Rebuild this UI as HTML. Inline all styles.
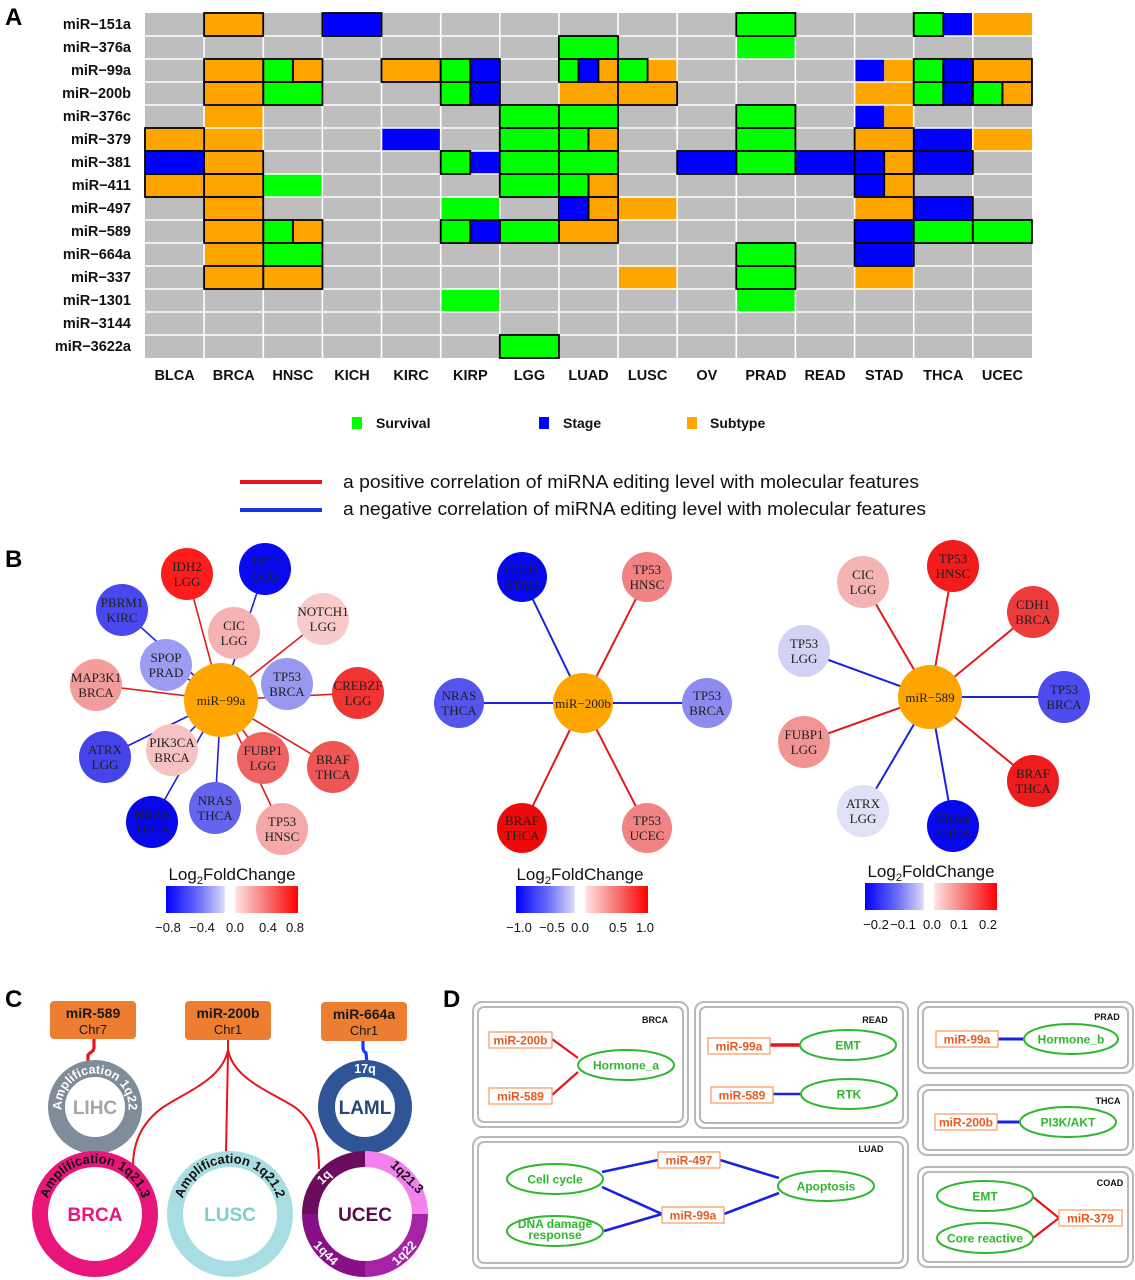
<!DOCTYPE html>
<html><head><meta charset="utf-8">
<style>
html,body{margin:0;padding:0;background:#fff;}
svg{display:block;}
.o{fill:#ffa500}.g{fill:#00ff00}.b{fill:#0000ff}
.k{fill:none;stroke:#000;stroke-width:1.8}
.rl{font:bold 14.5px "Liberation Sans",sans-serif;text-anchor:end;fill:#111}
.cl{font:bold 14.5px "Liberation Sans",sans-serif;text-anchor:middle;fill:#111}
.lg{font:bold 14px "Liberation Sans",sans-serif;fill:#111}
.pl{font:bold 24px "Liberation Sans",sans-serif;fill:#000}
.n{font:13px "Liberation Serif",serif;text-anchor:middle;fill:#1e1e1e}
.cb{font:17px "Liberation Sans",sans-serif;text-anchor:middle;fill:#111}
.tk{font:13px "Liberation Sans",sans-serif;text-anchor:middle;fill:#111}
.bx{font:bold 14px "Liberation Sans",sans-serif;text-anchor:middle;fill:#1a1a1a}
.bc{font:13px "Liberation Sans",sans-serif;text-anchor:middle;fill:#1a1a1a}
.rt{font:bold 19px "Liberation Sans",sans-serif;text-anchor:middle}
.rw{font:bold 12.5px "Liberation Sans",sans-serif;fill:#fff;text-anchor:middle}
.rk{font:bold 13px "Liberation Sans",sans-serif;fill:#111;text-anchor:middle}
.db{fill:none;stroke:#b8b8b8;stroke-width:2}
.dl{font:bold 9px "Liberation Sans",sans-serif;text-anchor:middle;fill:#111}
.mb{fill:#fff;stroke:#f5a06a;stroke-width:1.3}
.mt{font:bold 12px "Liberation Sans",sans-serif;text-anchor:middle;fill:#e85a1e}
.el{fill:#fff;stroke:#2eb82e;stroke-width:2}
.et{font:bold 12px "Liberation Sans",sans-serif;text-anchor:middle;fill:#2eb82e}
</style></head>
<body>
<svg width="1135" height="1280" viewBox="0 0 1135 1280" xmlns="http://www.w3.org/2000/svg">
<defs>
<linearGradient id="cg" x1="0" x2="1" y1="0" y2="0">
<stop offset="0" stop-color="#0000ff"/>
<stop offset="0.25" stop-color="#6f6ff8"/>
<stop offset="0.44" stop-color="#d8d8fa"/>
<stop offset="0.45" stop-color="#ffffff"/>
<stop offset="0.52" stop-color="#ffffff"/>
<stop offset="0.53" stop-color="#ffe0e0"/>
<stop offset="0.75" stop-color="#f77a7a"/>
<stop offset="1" stop-color="#ff0000"/>
</linearGradient>
<path id="pLIHC" d="M62 1112.8 A33.5 33.5 0 1 1 128 1112.8"/>
<path id="pBRCA" d="M46.6 1204.4 A49 49 0 0 1 143.4 1204.4"/>
<path id="pLUSC" d="M181.6 1204.4 A49 49 0 0 1 278.4 1204.4"/>
</defs>

<!-- ================= PANEL A ================= -->
<text class="pl" x="5" y="25">A</text>
<g>
<text class="rl" x="131" y="29">miR−151a</text>
<text class="rl" x="131" y="52">miR−376a</text>
<text class="rl" x="131" y="75">miR−99a</text>
<text class="rl" x="131" y="98">miR−200b</text>
<text class="rl" x="131" y="121">miR−376c</text>
<text class="rl" x="131" y="144">miR−379</text>
<text class="rl" x="131" y="167">miR−381</text>
<text class="rl" x="131" y="190">miR−411</text>
<text class="rl" x="131" y="213">miR−497</text>
<text class="rl" x="131" y="236">miR−589</text>
<text class="rl" x="131" y="259">miR−664a</text>
<text class="rl" x="131" y="282">miR−337</text>
<text class="rl" x="131" y="305">miR−1301</text>
<text class="rl" x="131" y="328">miR−3144</text>
<text class="rl" x="131" y="351">miR−3622a</text>
</g>
<rect x="145" y="13" width="887" height="345" fill="#bebebe"/>
<g>
<!-- R0 -->
<rect class="o" x="204.1" y="13" width="59.13" height="23"/>
<rect class="b" x="322.4" y="13" width="59.13" height="23"/>
<rect class="g" x="736.3" y="13" width="59.13" height="23"/>
<rect class="g" x="913.7" y="13" width="29.57" height="23"/>
<rect class="b" x="943.3" y="13" width="29.57" height="23"/>
<rect class="o" x="972.8" y="13" width="59.13" height="23"/>
<!-- R1 -->
<rect class="g" x="558.9" y="36" width="59.13" height="23"/>
<rect class="g" x="736.3" y="36" width="59.13" height="23"/>
<!-- R2 -->
<rect class="o" x="204.1" y="59" width="59.13" height="23"/>
<rect class="g" x="263.3" y="59" width="29.57" height="23"/>
<rect class="o" x="292.9" y="59" width="29.57" height="23"/>
<rect class="o" x="381.5" y="59" width="59.13" height="23"/>
<rect class="g" x="440.7" y="59" width="29.57" height="23"/>
<rect class="b" x="470.3" y="59" width="29.57" height="23"/>
<rect class="g" x="558.9" y="59" width="19.71" height="23"/>
<rect class="b" x="578.6" y="59" width="19.71" height="23"/>
<rect class="o" x="598.3" y="59" width="19.71" height="23"/>
<rect class="g" x="618.0" y="59" width="29.57" height="23"/>
<rect class="o" x="647.6" y="59" width="29.57" height="23"/>
<rect class="b" x="854.6" y="59" width="29.57" height="23"/>
<rect class="o" x="884.2" y="59" width="29.57" height="23"/>
<rect class="g" x="913.7" y="59" width="29.57" height="23"/>
<rect class="b" x="943.3" y="59" width="29.57" height="23"/>
<rect class="o" x="972.8" y="59" width="59.13" height="23"/>
<!-- R3 -->
<rect class="o" x="204.1" y="82" width="59.13" height="23"/>
<rect class="g" x="263.3" y="82" width="59.13" height="23"/>
<rect class="g" x="440.7" y="82" width="29.57" height="23"/>
<rect class="b" x="470.3" y="82" width="29.57" height="23"/>
<rect class="o" x="558.9" y="82" width="59.13" height="23"/>
<rect class="o" x="618.0" y="82" width="59.13" height="23"/>
<rect class="o" x="854.6" y="82" width="59.13" height="23"/>
<rect class="g" x="913.7" y="82" width="29.57" height="23"/>
<rect class="b" x="943.3" y="82" width="29.57" height="23"/>
<rect class="g" x="972.8" y="82" width="29.57" height="23"/>
<rect class="o" x="1002.4" y="82" width="29.57" height="23"/>
<!-- R4 -->
<rect class="o" x="204.1" y="105" width="59.13" height="23"/>
<rect class="g" x="499.8" y="105" width="59.13" height="23"/>
<rect class="g" x="558.9" y="105" width="59.13" height="23"/>
<rect class="g" x="736.3" y="105" width="59.13" height="23"/>
<rect class="b" x="854.6" y="105" width="29.57" height="23"/>
<rect class="o" x="884.2" y="105" width="29.57" height="23"/>
<!-- R5 -->
<rect class="o" x="145" y="128" width="59.13" height="23"/>
<rect class="o" x="204.1" y="128" width="59.13" height="23"/>
<rect class="b" x="381.5" y="128" width="59.13" height="23"/>
<rect class="g" x="499.8" y="128" width="59.13" height="23"/>
<rect class="g" x="558.9" y="128" width="29.57" height="23"/>
<rect class="o" x="588.5" y="128" width="29.57" height="23"/>
<rect class="g" x="736.3" y="128" width="59.13" height="23"/>
<rect class="o" x="854.6" y="128" width="59.13" height="23"/>
<rect class="b" x="913.7" y="128" width="59.13" height="23"/>
<rect class="o" x="972.8" y="128" width="59.13" height="23"/>
<!-- R6 -->
<rect class="b" x="145" y="151" width="59.13" height="23"/>
<rect class="o" x="204.1" y="151" width="59.13" height="23"/>
<rect class="g" x="440.7" y="151" width="29.57" height="23"/>
<rect class="b" x="470.3" y="151" width="29.57" height="23"/>
<rect class="g" x="499.8" y="151" width="59.13" height="23"/>
<rect class="g" x="558.9" y="151" width="59.13" height="23"/>
<rect class="b" x="677.2" y="151" width="59.13" height="23"/>
<rect class="g" x="736.3" y="151" width="59.13" height="23"/>
<rect class="b" x="795.4" y="151" width="59.13" height="23"/>
<rect class="b" x="854.6" y="151" width="29.57" height="23"/>
<rect class="o" x="884.2" y="151" width="29.57" height="23"/>
<rect class="b" x="913.7" y="151" width="59.13" height="23"/>
<!-- R7 -->
<rect class="o" x="145" y="174" width="59.13" height="23"/>
<rect class="o" x="204.1" y="174" width="59.13" height="23"/>
<rect class="g" x="263.3" y="174" width="59.13" height="23"/>
<rect class="g" x="499.8" y="174" width="59.13" height="23"/>
<rect class="g" x="558.9" y="174" width="29.57" height="23"/>
<rect class="o" x="588.5" y="174" width="29.57" height="23"/>
<rect class="b" x="854.6" y="174" width="29.57" height="23"/>
<rect class="o" x="884.2" y="174" width="29.57" height="23"/>
<!-- R8 -->
<rect class="o" x="204.1" y="197" width="59.13" height="23"/>
<rect class="g" x="440.7" y="197" width="59.13" height="23"/>
<rect class="b" x="558.9" y="197" width="29.57" height="23"/>
<rect class="o" x="588.5" y="197" width="29.57" height="23"/>
<rect class="o" x="618.0" y="197" width="59.13" height="23"/>
<rect class="o" x="854.6" y="197" width="59.13" height="23"/>
<rect class="b" x="913.7" y="197" width="59.13" height="23"/>
<!-- R9 -->
<rect class="o" x="204.1" y="220" width="59.13" height="23"/>
<rect class="g" x="263.3" y="220" width="29.57" height="23"/>
<rect class="o" x="292.9" y="220" width="29.57" height="23"/>
<rect class="g" x="440.7" y="220" width="29.57" height="23"/>
<rect class="b" x="470.3" y="220" width="29.57" height="23"/>
<rect class="g" x="499.8" y="220" width="59.13" height="23"/>
<rect class="o" x="558.9" y="220" width="59.13" height="23"/>
<rect class="b" x="854.6" y="220" width="59.13" height="23"/>
<rect class="g" x="913.7" y="220" width="59.13" height="23"/>
<rect class="g" x="972.8" y="220" width="59.13" height="23"/>
<!-- R10 -->
<rect class="o" x="204.1" y="243" width="59.13" height="23"/>
<rect class="g" x="263.3" y="243" width="59.13" height="23"/>
<rect class="g" x="736.3" y="243" width="59.13" height="23"/>
<rect class="b" x="854.6" y="243" width="59.13" height="23"/>
<!-- R11 -->
<rect class="o" x="204.1" y="266" width="59.13" height="23"/>
<rect class="o" x="263.3" y="266" width="59.13" height="23"/>
<rect class="o" x="618.0" y="266" width="59.13" height="23"/>
<rect class="g" x="736.3" y="266" width="59.13" height="23"/>
<rect class="o" x="854.6" y="266" width="59.13" height="23"/>
<!-- R12 -->
<rect class="g" x="440.7" y="289" width="59.13" height="23"/>
<rect class="g" x="736.3" y="289" width="59.13" height="23"/>
<!-- R14 -->
<rect class="g" x="499.8" y="335" width="59.13" height="23"/>
</g>
<!-- white grid -->
<path d="M204.1 13V358M263.3 13V358M322.4 13V358M381.5 13V358M440.7 13V358M499.8 13V358M558.9 13V358M618.0 13V358M677.2 13V358M736.3 13V358M795.4 13V358M854.6 13V358M913.7 13V358M972.8 13V358M145 36H1032M145 59H1032M145 82H1032M145 105H1032M145 128H1032M145 151H1032M145 174H1032M145 197H1032M145 220H1032M145 243H1032M145 266H1032M145 289H1032M145 312H1032M145 335H1032" stroke="#fff" stroke-width="1.6" fill="none"/>
<!-- borders -->
<g>
<rect class="k" x="204.1" y="13" width="59.13" height="23"/>
<rect class="k" x="322.4" y="13" width="59.13" height="23"/>
<rect class="k" x="736.3" y="13" width="59.13" height="23"/>
<rect class="k" x="913.7" y="13" width="29.57" height="23"/>
<rect class="k" x="558.9" y="36" width="59.13" height="23"/>
<rect class="k" x="204.1" y="59" width="59.13" height="23"/>
<rect class="k" x="263.3" y="59" width="29.57" height="23"/>
<rect class="k" x="292.9" y="59" width="29.57" height="23"/>
<rect class="k" x="381.5" y="59" width="59.13" height="23"/>
<rect class="k" x="440.7" y="59" width="29.57" height="23"/>
<rect class="k" x="470.3" y="59" width="29.57" height="23"/>
<rect class="k" x="558.9" y="59" width="19.71" height="23"/>
<rect class="k" x="578.6" y="59" width="19.71" height="23"/>
<rect class="k" x="598.3" y="59" width="19.71" height="23"/>
<rect class="k" x="618.0" y="59" width="29.57" height="23"/>
<rect class="k" x="913.7" y="59" width="29.57" height="23"/>
<rect class="k" x="943.3" y="59" width="29.57" height="23"/>
<rect class="k" x="972.8" y="59" width="59.13" height="23"/>
<rect class="k" x="204.1" y="82" width="59.13" height="23"/>
<rect class="k" x="263.3" y="82" width="59.13" height="23"/>
<rect class="k" x="440.7" y="82" width="29.57" height="23"/>
<rect class="k" x="470.3" y="82" width="29.57" height="23"/>
<rect class="k" x="618.0" y="82" width="59.13" height="23"/>
<rect class="k" x="913.7" y="82" width="29.57" height="23"/>
<rect class="k" x="943.3" y="82" width="29.57" height="23"/>
<rect class="k" x="972.8" y="82" width="29.57" height="23"/>
<rect class="k" x="1002.4" y="82" width="29.57" height="23"/>
<rect class="k" x="499.8" y="105" width="59.13" height="23"/>
<rect class="k" x="558.9" y="105" width="59.13" height="23"/>
<rect class="k" x="736.3" y="105" width="59.13" height="23"/>
<rect class="k" x="145" y="128" width="59.13" height="23"/>
<rect class="k" x="499.8" y="128" width="59.13" height="23"/>
<rect class="k" x="558.9" y="128" width="29.57" height="23"/>
<rect class="k" x="588.5" y="128" width="29.57" height="23"/>
<rect class="k" x="736.3" y="128" width="59.13" height="23"/>
<rect class="k" x="854.6" y="128" width="59.13" height="23"/>
<rect class="k" x="145" y="151" width="59.13" height="23"/>
<rect class="k" x="204.1" y="151" width="59.13" height="23"/>
<rect class="k" x="440.7" y="151" width="29.57" height="23"/>
<rect class="k" x="499.8" y="151" width="59.13" height="23"/>
<rect class="k" x="558.9" y="151" width="59.13" height="23"/>
<rect class="k" x="677.2" y="151" width="59.13" height="23"/>
<rect class="k" x="736.3" y="151" width="59.13" height="23"/>
<rect class="k" x="795.4" y="151" width="59.13" height="23"/>
<rect class="k" x="854.6" y="151" width="29.57" height="23"/>
<rect class="k" x="884.2" y="151" width="29.57" height="23"/>
<rect class="k" x="913.7" y="151" width="59.13" height="23"/>
<rect class="k" x="145" y="174" width="59.13" height="23"/>
<rect class="k" x="204.1" y="174" width="59.13" height="23"/>
<rect class="k" x="499.8" y="174" width="59.13" height="23"/>
<rect class="k" x="558.9" y="174" width="29.57" height="23"/>
<rect class="k" x="588.5" y="174" width="29.57" height="23"/>
<rect class="k" x="854.6" y="174" width="29.57" height="23"/>
<rect class="k" x="884.2" y="174" width="29.57" height="23"/>
<rect class="k" x="204.1" y="197" width="59.13" height="23"/>
<rect class="k" x="558.9" y="197" width="29.57" height="23"/>
<rect class="k" x="588.5" y="197" width="29.57" height="23"/>
<rect class="k" x="913.7" y="197" width="59.13" height="23"/>
<rect class="k" x="204.1" y="220" width="59.13" height="23"/>
<rect class="k" x="263.3" y="220" width="29.57" height="23"/>
<rect class="k" x="292.9" y="220" width="29.57" height="23"/>
<rect class="k" x="440.7" y="220" width="29.57" height="23"/>
<rect class="k" x="470.3" y="220" width="29.57" height="23"/>
<rect class="k" x="499.8" y="220" width="59.13" height="23"/>
<rect class="k" x="558.9" y="220" width="59.13" height="23"/>
<rect class="k" x="854.6" y="220" width="59.13" height="23"/>
<rect class="k" x="913.7" y="220" width="59.13" height="23"/>
<rect class="k" x="972.8" y="220" width="59.13" height="23"/>
<rect class="k" x="263.3" y="243" width="59.13" height="23"/>
<rect class="k" x="736.3" y="243" width="59.13" height="23"/>
<rect class="k" x="854.6" y="243" width="59.13" height="23"/>
<rect class="k" x="204.1" y="266" width="59.13" height="23"/>
<rect class="k" x="263.3" y="266" width="59.13" height="23"/>
<rect class="k" x="736.3" y="266" width="59.13" height="23"/>
<rect class="k" x="499.8" y="335" width="59.13" height="23"/>
</g>
<!-- column labels -->
<g>
<text class="cl" x="174.6" y="380">BLCA</text>
<text class="cl" x="233.7" y="380">BRCA</text>
<text class="cl" x="292.9" y="380">HNSC</text>
<text class="cl" x="352.0" y="380">KICH</text>
<text class="cl" x="411.1" y="380">KIRC</text>
<text class="cl" x="470.3" y="380">KIRP</text>
<text class="cl" x="529.4" y="380">LGG</text>
<text class="cl" x="588.5" y="380">LUAD</text>
<text class="cl" x="647.6" y="380">LUSC</text>
<text class="cl" x="706.8" y="380">OV</text>
<text class="cl" x="765.9" y="380">PRAD</text>
<text class="cl" x="825.0" y="380">READ</text>
<text class="cl" x="884.2" y="380">STAD</text>
<text class="cl" x="943.3" y="380">THCA</text>
<text class="cl" x="1002.4" y="380">UCEC</text>
</g>
<!-- legend A -->
<rect x="352" y="417" width="10" height="12" fill="#00ff00"/>
<text class="lg" x="376" y="428">Survival</text>
<rect x="539" y="417" width="10" height="12" fill="#0000ff"/>
<text class="lg" x="563" y="428">Stage</text>
<rect x="687" y="417" width="10" height="12" fill="#ffa500"/>
<text class="lg" x="710" y="428">Subtype</text>

<!-- correlation legend -->
<line x1="240" y1="482" x2="322" y2="482" stroke="#e8141c" stroke-width="4"/>
<line x1="240" y1="510" x2="322" y2="510" stroke="#1538e0" stroke-width="4"/>
<text x="343" y="488" font-family="Liberation Sans, sans-serif" font-size="18" fill="#111" textLength="576" lengthAdjust="spacingAndGlyphs">a positive correlation of miRNA editing level with molecular features</text>
<text x="343" y="515" font-family="Liberation Sans, sans-serif" font-size="18" fill="#111" textLength="583" lengthAdjust="spacingAndGlyphs">a negative correlation of miRNA editing level with molecular features</text>

<!-- ================= PANEL B ================= -->
<text class="pl" x="5" y="567">B</text>
<!-- left network edges -->
<g stroke-width="1.6" fill="none">
<g stroke="#e31a1c">
<line x1="221" y1="700" x2="187" y2="574"/>
<line x1="221" y1="700" x2="323" y2="619"/>
<line x1="221" y1="700" x2="96" y2="685"/>
<line x1="221" y1="700" x2="358" y2="693"/>
<line x1="221" y1="700" x2="263" y2="758"/>
<line x1="221" y1="700" x2="282" y2="829"/>
<line x1="221" y1="700" x2="333" y2="767"/>
</g>
<g stroke="#1a22e0">
<line x1="221" y1="700" x2="265" y2="569"/>
<line x1="221" y1="700" x2="122" y2="610"/>
<line x1="221" y1="700" x2="166" y2="665"/>
<line x1="221" y1="700" x2="172" y2="750"/>
<line x1="221" y1="700" x2="105" y2="757"/>
<line x1="221" y1="700" x2="215" y2="808"/>
<line x1="221" y1="700" x2="152" y2="822"/>
</g>
</g>
<g>
<circle cx="187" cy="574" r="26" fill="#ff1c1c"/>
<circle cx="265" cy="569" r="26" fill="#0a0af0"/>
<circle cx="122" cy="610" r="26" fill="#4848ee"/>
<circle cx="323" cy="619" r="26" fill="#f8caca"/>
<circle cx="96" cy="685" r="26" fill="#f29c9c"/>
<circle cx="358" cy="693" r="26" fill="#f03434"/>
<circle cx="105" cy="757" r="26" fill="#4444e8"/>
<circle cx="333" cy="767" r="26" fill="#ee5656"/>
<circle cx="152" cy="822" r="26" fill="#0808ea"/>
<circle cx="215" cy="808" r="26" fill="#6464ee"/>
<circle cx="282" cy="829" r="26" fill="#f5a8a8"/>
<circle cx="234" cy="633" r="26" fill="#f5b2b2"/>
<circle cx="166" cy="665" r="26" fill="#9c9cf2"/>
<circle cx="287" cy="684" r="26" fill="#9898f0"/>
<circle cx="172" cy="750" r="26" fill="#f6c2c2"/>
<circle cx="263" cy="758" r="26" fill="#ee6262"/>
<circle cx="221" cy="700" r="37" fill="#ffa500"/>
</g>
<g>
<text class="n" x="187" y="571">IDH2</text><text class="n" x="187" y="586">LGG</text>
<text class="n" x="265" y="566">TP53</text><text class="n" x="265" y="581">LGG</text>
<text class="n" x="122" y="607">PBRM1</text><text class="n" x="122" y="622">KIRC</text>
<text class="n" x="323" y="616">NOTCH1</text><text class="n" x="323" y="631">LGG</text>
<text class="n" x="234" y="630">CIC</text><text class="n" x="234" y="645">LGG</text>
<text class="n" x="166" y="662">SPOP</text><text class="n" x="166" y="677">PRAD</text>
<text class="n" x="96" y="682">MAP3K1</text><text class="n" x="96" y="697">BRCA</text>
<text class="n" x="287" y="681">TP53</text><text class="n" x="287" y="696">BRCA</text>
<text class="n" x="358" y="690">CREBZF</text><text class="n" x="358" y="705">LGG</text>
<text class="n" x="172" y="747">PIK3CA</text><text class="n" x="172" y="762">BRCA</text>
<text class="n" x="105" y="754">ATRX</text><text class="n" x="105" y="769">LGG</text>
<text class="n" x="263" y="755">FUBP1</text><text class="n" x="263" y="770">LGG</text>
<text class="n" x="333" y="764">BRAF</text><text class="n" x="333" y="779">THCA</text>
<text class="n" x="215" y="805">NRAS</text><text class="n" x="215" y="820">THCA</text>
<text class="n" x="152" y="819">HRAS</text><text class="n" x="152" y="834">THCA</text>
<text class="n" x="282" y="826">TP53</text><text class="n" x="282" y="841">HNSC</text>
<text class="n" x="221" y="705">miR−99a</text>
</g>
<!-- left colorbar -->
<text class="cb" x="232" y="880">Log<tspan font-size="11" dy="4">2</tspan><tspan dy="-4">FoldChange</tspan></text>
<rect x="166" y="886" width="132" height="27" fill="url(#cg)"/>
<text class="tk" x="168" y="932">−0.8</text>
<text class="tk" x="202" y="932">−0.4</text>
<text class="tk" x="235" y="932">0.0</text>
<text class="tk" x="268" y="932">0.4</text>
<text class="tk" x="295" y="932">0.8</text>

<!-- middle network -->
<g stroke-width="2" fill="none">
<g stroke="#1a22e0">
<line x1="583" y1="703" x2="522" y2="577"/>
<line x1="583" y1="703" x2="459" y2="703"/>
<line x1="583" y1="703" x2="707" y2="703"/>
</g>
<g stroke="#e31a1c">
<line x1="583" y1="703" x2="647" y2="577"/>
<line x1="583" y1="703" x2="522" y2="828"/>
<line x1="583" y1="703" x2="647" y2="828"/>
</g>
</g>
<circle cx="522" cy="577" r="25" fill="#0808ee"/>
<circle cx="647" cy="577" r="25" fill="#f08282"/>
<circle cx="459" cy="703" r="25" fill="#5555ee"/>
<circle cx="707" cy="703" r="25" fill="#8c8cf0"/>
<circle cx="522" cy="828" r="25" fill="#ee0a0a"/>
<circle cx="647" cy="828" r="25" fill="#f08484"/>
<circle cx="583" cy="703" r="30" fill="#ffa500"/>
<text class="n" x="522" y="574">CDH1</text><text class="n" x="522" y="589">STAD</text>
<text class="n" x="647" y="574">TP53</text><text class="n" x="647" y="589">HNSC</text>
<text class="n" x="459" y="700">NRAS</text><text class="n" x="459" y="715">THCA</text>
<text class="n" x="707" y="700">TP53</text><text class="n" x="707" y="715">BRCA</text>
<text class="n" x="522" y="825">BRAF</text><text class="n" x="522" y="840">THCA</text>
<text class="n" x="647" y="825">TP53</text><text class="n" x="647" y="840">UCEC</text>
<text class="n" x="583" y="708">miR−200b</text>
<text class="cb" x="580" y="880">Log<tspan font-size="11" dy="4">2</tspan><tspan dy="-4">FoldChange</tspan></text>
<rect x="516" y="886" width="132" height="27" fill="url(#cg)"/>
<text class="tk" x="519" y="932">−1.0</text>
<text class="tk" x="552" y="932">−0.5</text>
<text class="tk" x="580" y="932">0.0</text>
<text class="tk" x="618" y="932">0.5</text>
<text class="tk" x="645" y="932">1.0</text>

<!-- right network -->
<g stroke-width="2" fill="none">
<g stroke="#e31a1c">
<line x1="930" y1="697" x2="863" y2="582"/>
<line x1="930" y1="697" x2="953" y2="566"/>
<line x1="930" y1="697" x2="1033" y2="612"/>
<line x1="930" y1="697" x2="804" y2="742"/>
<line x1="930" y1="697" x2="1033" y2="781"/>
</g>
<g stroke="#1a22e0">
<line x1="930" y1="697" x2="804" y2="651"/>
<line x1="930" y1="697" x2="1064" y2="697"/>
<line x1="930" y1="697" x2="863" y2="811"/>
<line x1="930" y1="697" x2="953" y2="826"/>
</g>
</g>
<circle cx="863" cy="582" r="26" fill="#f4b4b4"/>
<circle cx="953" cy="566" r="26" fill="#f21c1c"/>
<circle cx="1033" cy="612" r="26" fill="#ee3c3c"/>
<circle cx="804" cy="651" r="26" fill="#d2d2f5"/>
<circle cx="1064" cy="697" r="26" fill="#4c4cee"/>
<circle cx="804" cy="742" r="26" fill="#f29494"/>
<circle cx="1033" cy="781" r="26" fill="#ee1c1c"/>
<circle cx="863" cy="811" r="26" fill="#e0e0f6"/>
<circle cx="953" cy="826" r="26" fill="#0808ee"/>
<circle cx="930" cy="697" r="32" fill="#ffa500"/>
<text class="n" x="863" y="579">CIC</text><text class="n" x="863" y="594">LGG</text>
<text class="n" x="953" y="563">TP53</text><text class="n" x="953" y="578">HNSC</text>
<text class="n" x="1033" y="609">CDH1</text><text class="n" x="1033" y="624">BRCA</text>
<text class="n" x="804" y="648">TP53</text><text class="n" x="804" y="663">LGG</text>
<text class="n" x="1064" y="694">TP53</text><text class="n" x="1064" y="709">BRCA</text>
<text class="n" x="804" y="739">FUBP1</text><text class="n" x="804" y="754">LGG</text>
<text class="n" x="1033" y="778">BRAF</text><text class="n" x="1033" y="793">THCA</text>
<text class="n" x="863" y="808">ATRX</text><text class="n" x="863" y="823">LGG</text>
<text class="n" x="953" y="823">NRAS</text><text class="n" x="953" y="838">THCA</text>
<text class="n" x="930" y="702">miR−589</text>
<text class="cb" x="931" y="877">Log<tspan font-size="11" dy="4">2</tspan><tspan dy="-4">FoldChange</tspan></text>
<rect x="865" y="883" width="132" height="27" fill="url(#cg)"/>
<text class="tk" x="876" y="929">−0.2</text>
<text class="tk" x="903" y="929">−0.1</text>
<text class="tk" x="932" y="929">0.0</text>
<text class="tk" x="959" y="929">0.1</text>
<text class="tk" x="988" y="929">0.2</text>

<!-- ================= PANEL C ================= -->
<text class="pl" x="5" y="1007">C</text>
<!-- connectors -->
<path d="M94 1039 L94 1047 Q94 1051 90 1053 L88 1055 L88 1062" stroke="#e8141c" stroke-width="3.2" fill="none"/>
<path d="M363 1041 L363 1048 Q363 1051 366 1053 L367 1063" stroke="#1538ff" stroke-width="3.2" fill="none"/>
<g stroke="#e8141c" stroke-width="2" fill="none">
<path d="M228 1040 L228 1052 L226 1152"/>
<path d="M228 1050 C222 1080 185 1092 162 1108 C140 1124 133 1145 133 1166"/>
<path d="M228 1050 C234 1080 272 1092 296 1108 C316 1124 319 1145 319 1169"/>
</g>
<!-- boxes -->
<rect x="50" y="1001" width="86" height="38" rx="4" fill="#ed7d31"/>
<text class="bx" x="93" y="1018">miR-589</text><text class="bc" x="93" y="1034">Chr7</text>
<rect x="185" y="1001" width="86" height="39" rx="4" fill="#ed7d31"/>
<text class="bx" x="228" y="1018">miR-200b</text><text class="bc" x="228" y="1034">Chr1</text>
<rect x="321" y="1002" width="86" height="39" rx="4" fill="#ed7d31"/>
<text class="bx" x="364" y="1019">miR-664a</text><text class="bc" x="364" y="1035">Chr1</text>
<!-- LIHC -->
<circle cx="95" cy="1107" r="38.5" fill="#fff" stroke="#7f8c99" stroke-width="17"/>
<text class="rw" font-size="12"><textPath href="#pLIHC" startOffset="50%">Amplification 1q22</textPath></text>
<text class="rt" x="95" y="1114" fill="#a6a6a6">LIHC</text>
<!-- LAML -->
<circle cx="365" cy="1107" r="38.5" fill="#fff" stroke="#2f5597" stroke-width="17"/>
<text class="rw" x="365" y="1073">17q</text>
<text class="rt" x="365" y="1114" fill="#25467f">LAML</text>
<!-- BRCA -->
<circle cx="95" cy="1214" r="55" fill="#fff" stroke="#e8157b" stroke-width="16"/>
<text class="rk"><textPath href="#pBRCA" startOffset="50%">Amplification 1q21.3</textPath></text>
<text class="rt" x="95" y="1221" fill="#e8157b">BRCA</text>
<!-- LUSC -->
<circle cx="230" cy="1214" r="55" fill="#fff" stroke="#a8dde1" stroke-width="16"/>
<text class="rk"><textPath href="#pLUSC" startOffset="50%">Amplification 1q21.2</textPath></text>
<text class="rt" x="230" y="1221" fill="#7ecbd0">LUSC</text>
<!-- UCEC -->
<g fill="none" stroke-width="16">
<path d="M310 1214 A55 55 0 0 1 365 1159" stroke="#6a0d5f"/>
<path d="M365 1159 A55 55 0 0 1 420 1214" stroke="#f480f0"/>
<path d="M420 1214 A55 55 0 0 1 365 1269" stroke="#a524a5"/>
<path d="M365 1269 A55 55 0 0 1 310 1214" stroke="#871087"/>
</g>
<text class="rw" transform="translate(327 1180) rotate(-45)">1q</text>
<text class="rk" fill="#3a0a3a" transform="translate(404 1180) rotate(45)">1q21.3</text>
<text class="rw" transform="translate(407 1256) rotate(-45)">1q22</text>
<text class="rw" transform="translate(323 1256) rotate(45)">1q44</text>
<text class="rt" x="365" y="1221" fill="#5a0b4f">UCEC</text>

<!-- ================= PANEL D ================= -->
<text class="pl" x="443" y="1007">D</text>
<!-- boxes -->
<rect class="db" x="473" y="1002" width="215" height="125" rx="9"/>
<rect class="db" x="478" y="1007" width="205" height="115" rx="6"/>
<rect class="db" x="695" y="1002" width="213" height="126" rx="9"/>
<rect class="db" x="700" y="1007" width="203" height="116" rx="6"/>
<rect class="db" x="473" y="1137" width="435" height="131" rx="9"/>
<rect class="db" x="478" y="1142" width="425" height="121" rx="6"/>
<rect class="db" x="918" y="1002" width="215" height="71" rx="9"/>
<rect class="db" x="923" y="1007" width="205" height="61" rx="6"/>
<rect class="db" x="918" y="1085" width="215" height="70" rx="9"/>
<rect class="db" x="923" y="1090" width="205" height="60" rx="6"/>
<rect class="db" x="918" y="1167" width="215" height="100" rx="9"/>
<rect class="db" x="923" y="1172" width="205" height="90" rx="6"/>
<text class="dl" x="655" y="1023">BRCA</text>
<text class="dl" x="875" y="1023">READ</text>
<text class="dl" x="871" y="1152">LUAD</text>
<text class="dl" x="1107" y="1020">PRAD</text>
<text class="dl" x="1108" y="1104">THCA</text>
<text class="dl" x="1110" y="1186">COAD</text>
<!-- BRCA -->
<line x1="552" y1="1039" x2="578" y2="1058" stroke="#e8141c" stroke-width="2.2"/>
<line x1="552" y1="1095" x2="578" y2="1072" stroke="#e8141c" stroke-width="2.2"/>
<rect class="mb" x="489" y="1032" width="63" height="16"/>
<text class="mt" x="520.5" y="1044.5">miR-200b</text>
<rect class="mb" x="489" y="1088" width="63" height="16"/>
<text class="mt" x="520.5" y="1100.5">miR-589</text>
<ellipse class="el" cx="626" cy="1065" rx="48" ry="15"/>
<text class="et" x="626" y="1069.5">Hormone_a</text>
<!-- READ -->
<line x1="770" y1="1045" x2="801" y2="1045" stroke="#e8141c" stroke-width="3.5"/>
<line x1="773" y1="1094" x2="802" y2="1094" stroke="#1a22e0" stroke-width="2.5"/>
<rect class="mb" x="708" y="1038" width="62" height="16"/>
<text class="mt" x="739" y="1050.5">miR-99a</text>
<rect class="mb" x="711" y="1087" width="62" height="16"/>
<text class="mt" x="742" y="1099.5">miR-589</text>
<ellipse class="el" cx="848" cy="1045" rx="48" ry="15"/>
<text class="et" x="848" y="1049.5">EMT</text>
<ellipse class="el" cx="849" cy="1094" rx="48" ry="15"/>
<text class="et" x="849" y="1098.5">RTK</text>
<!-- LUAD -->
<g stroke="#1a22e0" stroke-width="2.6">
<line x1="602" y1="1172" x2="658" y2="1160"/>
<line x1="602" y1="1187" x2="662" y2="1214"/>
<line x1="604" y1="1231" x2="662" y2="1214"/>
<line x1="720" y1="1160" x2="779" y2="1178"/>
<line x1="724" y1="1214" x2="779" y2="1193"/>
</g>
<rect class="mb" x="658" y="1152" width="62" height="16"/>
<text class="mt" x="689" y="1164.5">miR-497</text>
<rect class="mb" x="662" y="1207" width="62" height="16"/>
<text class="mt" x="693" y="1219.5">miR-99a</text>
<ellipse class="el" cx="555" cy="1179" rx="48" ry="15"/>
<text class="et" x="555" y="1183.5">Cell cycle</text>
<ellipse class="el" cx="555" cy="1231" rx="48" ry="15"/>
<text class="et" x="555" y="1228" font-size="8.5">DNA damage</text>
<text class="et" x="555" y="1239" font-size="8.5">response</text>
<ellipse class="el" cx="826" cy="1186" rx="48" ry="15"/>
<text class="et" x="826" y="1190.5">Apoptosis</text>
<!-- PRAD -->
<line x1="998" y1="1039" x2="1024" y2="1039" stroke="#1a22e0" stroke-width="3"/>
<rect class="mb" x="936" y="1031" width="62" height="16"/>
<text class="mt" x="967" y="1043.5">miR-99a</text>
<ellipse class="el" cx="1071" cy="1039" rx="47" ry="15"/>
<text class="et" x="1071" y="1043.5">Hormone_b</text>
<!-- THCA -->
<line x1="997" y1="1122" x2="1021" y2="1122" stroke="#1a22e0" stroke-width="3"/>
<rect class="mb" x="935" y="1114" width="62" height="16"/>
<text class="mt" x="966" y="1126.5">miR-200b</text>
<ellipse class="el" cx="1068" cy="1122" rx="48" ry="15"/>
<text class="et" x="1068" y="1126.5">PI3K/AKT</text>
<!-- COAD -->
<line x1="1033" y1="1197" x2="1059" y2="1218" stroke="#e8141c" stroke-width="2.2"/>
<line x1="1033" y1="1238" x2="1059" y2="1218" stroke="#e8141c" stroke-width="2.2"/>
<ellipse class="el" cx="985" cy="1196" rx="48" ry="15"/>
<text class="et" x="985" y="1200.5">EMT</text>
<ellipse class="el" cx="985" cy="1238" rx="48" ry="15"/>
<text class="et" x="985" y="1242.5">Core reactive</text>
<rect class="mb" x="1059" y="1210" width="63" height="16"/>
<text class="mt" x="1090.5" y="1222.5">miR-379</text>
</svg>
</body></html>
